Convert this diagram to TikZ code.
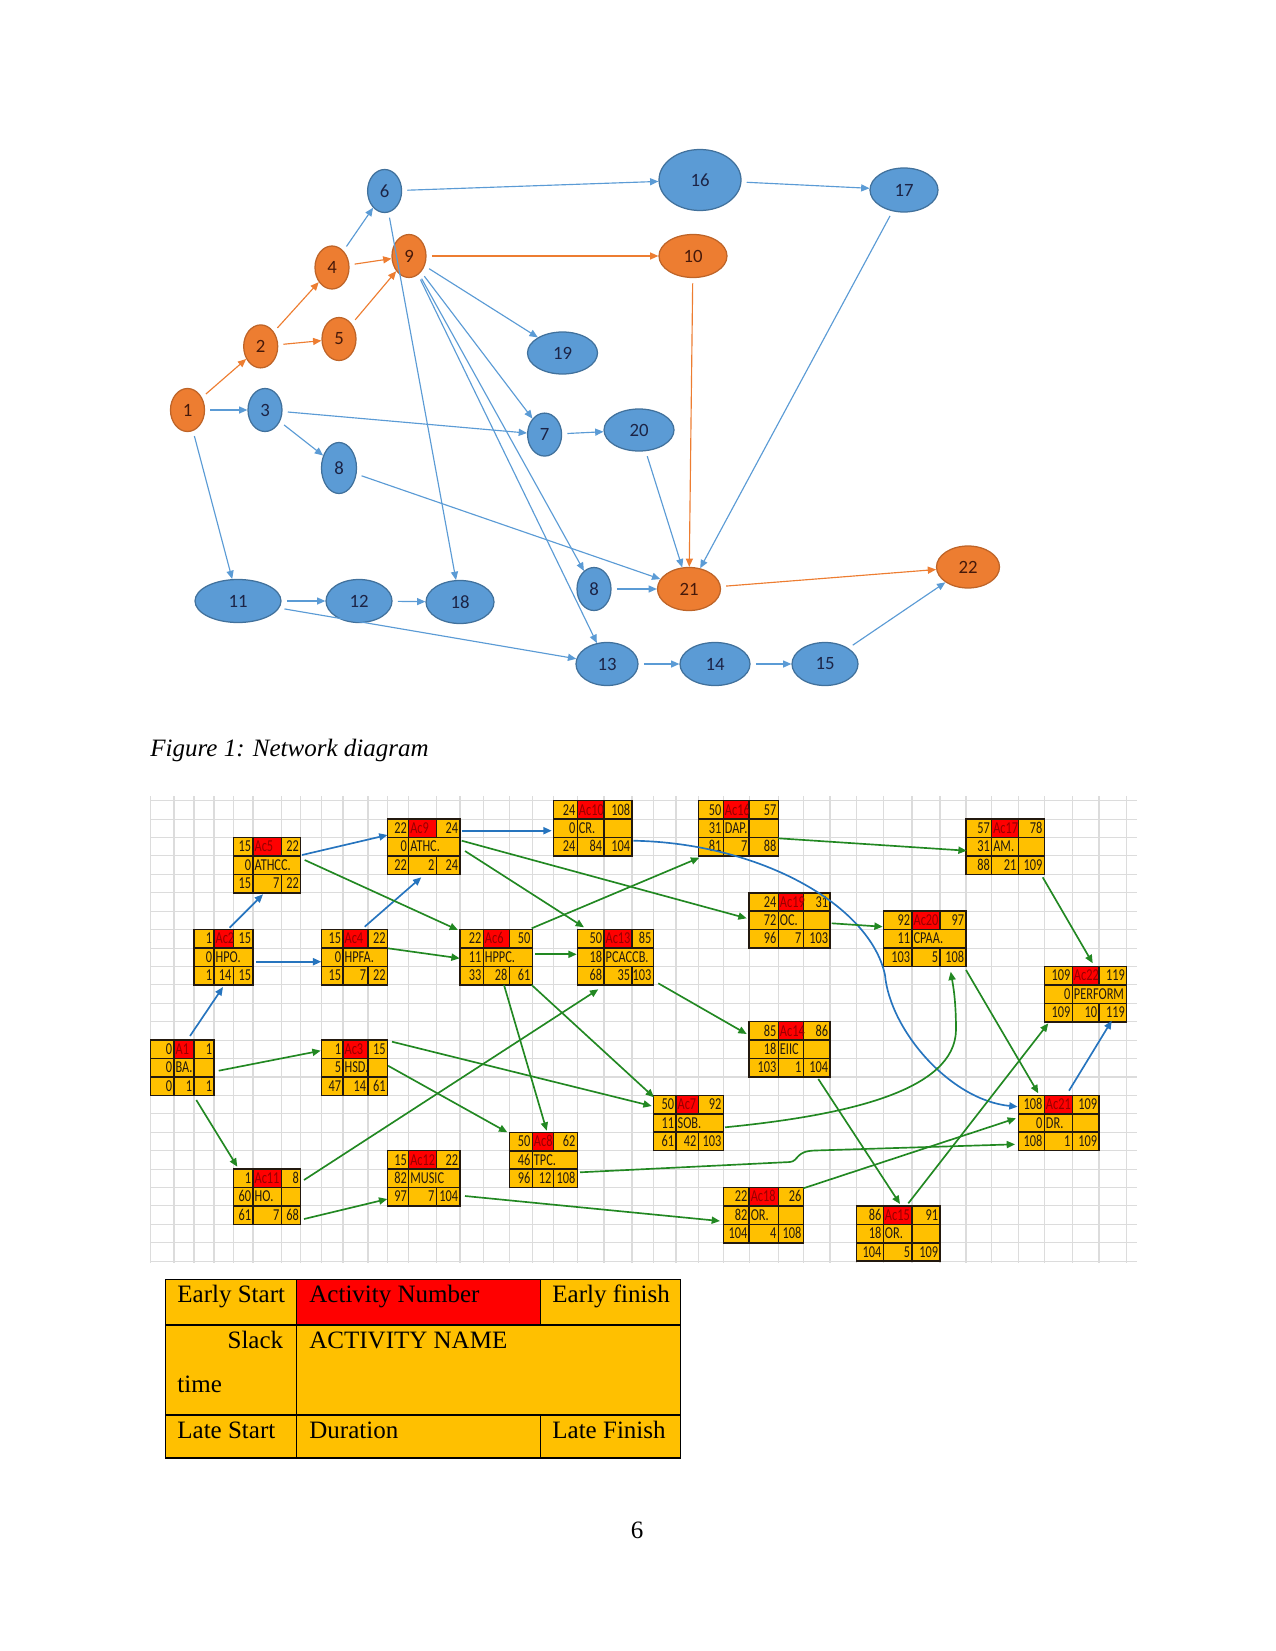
\documentclass[tikz,border=0pt]{standalone}
\usepackage{fontspec}
\setmainfont{Liberation Serif}
\newfontfamily\calfont{Carlito}
\usetikzlibrary{arrows.meta,shapes.geometric}
\definecolor{evblue}{RGB}{91,155,213}
\definecolor{evblueline}{RGB}{65,113,156}
\definecolor{evorange}{RGB}{237,125,49}
\definecolor{evorangeline}{RGB}{190,100,40}
\definecolor{evtext}{RGB}{28,36,70}
\definecolor{evotext}{RGB}{70,25,10}
\definecolor{amber}{RGB}{255,192,0}
\definecolor{cellred}{RGB}{255,0,0}
\definecolor{acred}{RGB}{150,0,0}
\definecolor{boxink}{RGB}{35,25,15}
\definecolor{gridgray}{RGB}{220,220,220}
\definecolor{lnkgreen}{RGB}{34,136,34}
\definecolor{lnkblue}{RGB}{38,116,190}
\tikzset{
  ev/.style={ellipse,draw,line width=0.6pt,inner sep=0pt,font=\calfont\fontsize{9}{10}\selectfont},
  evb/.style={ev,fill=evblue,draw=evblueline,text=evtext},
  evo/.style={ev,fill=evorange,draw=evorangeline,text=evotext},
  sz/.style 2 args={minimum width=#1*0.48pt,minimum height=#2*0.48pt},
  barr/.style={-{Triangle[length=4pt,width=3.4pt]},line width=0.55pt,evblue,shorten <=2.5pt},
  oarr/.style={barr,evorange},
  gridln/.style={gridgray,line width=0.5pt},
  boxln/.style={boxink,line width=0.75pt},
  cell/.style={inner sep=0pt,text=boxink,font=\calfont\fontsize{8}{9}\selectfont},
  garr/.style={-{Triangle[length=4pt,width=3.4pt]},line width=0.8pt,lnkgreen},
  larr/.style={garr,lnkblue},
  lgd/.style={inner sep=0pt,font=\fontsize{12}{14}\selectfont},
  lgdln/.style={black,line width=0.5pt},
}
\newcommand{\nar}[1]{\scalebox{0.74}[1]{#1}}
% #1 name, #2 x0/x1/x2/x3/top, #3 ES/no/EF, #4 slack/name/split, #5 LS/dur/LF
\newcommand{\actbox}[5]{%
  \foreach \bxa/\bxb/\bxc/\bxd/\byt/\bES/\bAN/\bEF/\bSL/\bNM/\bSP/\bLS/\bDU/\bLF in {#2/#3/#4/#5}{%
    \fill[amber] (\bxa,\byt) rectangle (\bxd,\byt+55.26);
    \fill[cellred] (\bxb,\byt) rectangle (\bxc,\byt+18.42);
    \draw[boxln] (\bxa,\byt) rectangle (\bxd,\byt+55.26)
      (\bxa,\byt+18.42) -- (\bxd,\byt+18.42)
      (\bxa,\byt+36.84) -- (\bxd,\byt+36.84)
      (\bxb,\byt) -- (\bxb,\byt+55.26)
      (\bxc,\byt) -- (\bxc,\byt+18.42)
      (\bxc,\byt+36.84) -- (\bxc,\byt+55.26);
    \ifnum\bSP=1 \draw[boxln] (\bxc,\byt+18.42) -- (\bxc,\byt+36.84);\fi
    \node[outer sep=0pt,inner sep=0pt,minimum width={(\bxd-\bxa)*0.48pt},minimum height=26.52pt] (#1) at ({(\bxa+\bxd)/2},\byt+27.63) {};
    \node[cell,anchor=base east] at (\bxb-1.5,\byt+14.3) {\nar{\bES}};
    \node[cell,anchor=base west,text=acred] at (\bxb+1.2,\byt+14.3) {\nar{\bAN}};
    \node[cell,anchor=base east] at (\bxd-1.5,\byt+14.3) {\nar{\bEF}};
    \node[cell,anchor=base east] at (\bxb-1.5,\byt+32.7) {\nar{\bSL}};
    \node[cell,anchor=base west] at (\bxb+1.2,\byt+32.7) {\nar{\bNM}};
    \node[cell,anchor=base east] at (\bxb-1.5,\byt+51.1) {\nar{\bLS}};
    \node[cell,anchor=base east] at (\bxc-1.5,\byt+51.1) {\nar{\bDU}};
    \node[cell,anchor=base east] at (\bxd-1.5,\byt+51.1) {\nar{\bLF}};
  }}

\begin{document}
\begin{tikzpicture}[x=0.48pt,y=-0.48pt]
\useasboundingbox (0,0) rectangle (1275,1651);

\node[evo,sz={34}{43}] (e1) at (187.5,410) {1};
\node[evo,sz={34}{43}] (e2) at (260.7,346.4) {2};
\node[evb,sz={34}{43}] (e3) at (265,410) {3};
\node[evo,sz={34}{43}] (e4) at (332,267.5) {4};
\node[evo,sz={34}{43}] (e5) at (339,339) {5};
\node[evb,sz={34}{43}] (e6) at (384.6,191) {6};
\node[evo,sz={34}{43}] (e9) at (409,256) {9};
\node[evb,sz={35}{51}] (e8a) at (339,468) {8};
\node[evb,sz={34}{43}] (e7) at (544.6,434.6) {7};
\node[evb,sz={70}{42}] (e19) at (562.5,353) {19};
\node[evb,sz={70}{42}] (e20) at (639,430) {20};
\node[evb,sz={82}{61}] (e16) at (700,180) {16};
\node[evb,sz={68}{44}] (e17) at (904,190) {17};
\node[evo,sz={68}{43}] (e10) at (693,256) {10};
\node[evb,sz={86}{43}] (e11) at (238,601) {11};
\node[evb,sz={66}{43}] (e12) at (359,601) {12};
\node[evb,sz={68}{43}] (e18) at (460,602) {18};
\node[evb,sz={34}{43}] (e8b) at (594,589) {8};
\node[evo,sz={63}{43}] (e21) at (689,589) {21};
\node[evb,sz={62}{43}] (e13) at (607,664) {13};
\node[evb,sz={70}{43}] (e14) at (715,664) {14};
\node[evb,sz={66}{43}] (e15) at (825,664) {15};
\node[evo,sz={63}{42}] (e22) at (968,567) {22};

\draw[oarr] (e1) -- (e2);
\draw[barr] (e1) -- (e3);
\draw[barr] (e1) -- (e11);
\draw[oarr] (e2) -- (e4);
\draw[oarr] (e2) -- (e5);
\draw[barr] (e4) -- (e6);
\draw[oarr] (e4) -- (e9);
\draw[oarr] (e5) -- (e9);
\draw[barr] (e6) -- (e16);
\draw[barr] (e6) -- (e18);
\draw[oarr] (e9) -- (e10);
\draw[barr] (e9) -- (e19);
\draw[barr] (e9) -- (e7);
\draw[barr] (e9) -- (e8b);
\draw[barr] (e9) -- (e13);
\draw[barr] (e3) -- (e7);
\draw[barr] (e3) -- (e8a);
\draw[barr] (e8a) -- (e21);
\draw[barr] (e7) -- (e20);
\draw[barr] (e20) -- (e21);
\draw[oarr] (e10) -- (e21);
\draw[barr] (e16) -- (e17);
\draw[barr] (e17) -- (e21);
\draw[barr] (e8b) -- (e21);
\draw[oarr] (e21) -- (e22);
\draw[barr] (e11) -- (e12);
\draw[barr] (e12) -- (e18);
\draw[barr] (e11) -- (e13);
\draw[barr] (e13) -- (e14);
\draw[barr] (e14) -- (e15);
\draw[barr] (e15) -- (e22);

\node[lgd,anchor=base west,font=\itshape\fontsize{12}{14}\selectfont] (cap) at (150,756) {Figure 1: Network diagram};

\foreach \gx in {150.7,174,194,214,233.3,253,281.3,300.7,321.3,343,368,387.5,408.7,436.3,460,483.3,509.3,532.3,553.3,577.3,604,632,653.3,676,698.3,723.3,749.2,778.3,803.3,830,856.7,883.3,912,940,966,991.7,1018.3,1044.3,1072.3,1099,1126.7}
  \draw[gridln] (\gx,796) -- (\gx,1263);
\foreach \k in {0,...,25}
  \draw[gridln] (150,{800.7+18.42*\k}) -- (1137,{800.7+18.42*\k});

\actbox{a1}{150.7/174/194/214/1040.2}{0/A1/1}{0/BA./1}{0/1/1}
\actbox{ac2}{194/214/233.3/253/929.6}{1/Ac2/15}{0/HPO./0}{1/14/15}
\actbox{ac5}{233.3/253/281.3/300.7/837.5}{15/Ac5/22}{0/ATHCC./0}{15/7/22}
\actbox{ac4}{321.3/343/368/387.5/929.6}{15/Ac4/22}{0/HPFA./0}{15/7/22}
\actbox{ac3}{321.3/343/368/387.5/1040.2}{1/Ac3/15}{5/HSD./1}{47/14/61}
\actbox{ac9}{387.5/408.7/436.3/460/819.1}{22/Ac9/24}{0/ATHC./0}{22/2/24}
\actbox{ac10}{553.3/577.3/604/632/800.7}{24/Ac10/108}{0/CR./1}{24/84/104}
\actbox{ac6}{460/483.3/509.3/532.3/929.6}{22/Ac6/50}{11/HPPC./0}{33/28/61}
\actbox{ac13}{577.3/604/632/653.3/929.6}{50/Ac13/85}{18/PCACCB./0}{68/35/103}
\actbox{ac16}{698.3/723.3/749.2/778.3/800.7}{50/Ac16/57}{31/DAP./1}{81/7/88}
\actbox{ac19}{749.2/778.3/803.3/830/892.8}{24/Ac19/31}{72/OC./1}{96/7/103}
\actbox{ac20}{883.3/912/940/966/911.2}{92/Ac20/97}{11/CPAA./0}{103/5/108}
\actbox{ac17}{966/991.7/1018.3/1044.3/819.1}{57/Ac17/78}{31/AM./1}{88/21/109}
\actbox{ac22}{1044.3/1072.3/1099/1126.7/966.5}{109/Ac22/119}{0/PERFORM/0}{109/10/119}
\actbox{ac11}{233.3/253/281.3/300.7/1169.1}{1/Ac11/8}{60/HO./1}{61/7/68}
\actbox{ac12}{387.5/408.7/436.3/460/1150.7}{15/Ac12/22}{82/MUSIC/0}{97/7/104}
\actbox{ac8}{509.3/532.3/553.3/577.3/1132.3}{50/Ac8/62}{46/TPC./0}{96/12/108}
\actbox{ac7}{653.3/676/698.3/723.3/1095.4}{50/Ac7/92}{11/SOB./0}{61/42/103}
\actbox{ac14}{749.2/778.3/803.3/830/1021.7}{85/Ac14/86}{18/EIIC/1}{103/1/104}
\actbox{ac21}{1018.3/1044.3/1072.3/1099/1095.4}{108/Ac21/109}{0/DR./1}{108/1/109}
\actbox{ac18}{723.3/749.2/778.3/803.3/1187.5}{22/Ac18/26}{82/OR./1}{104/4/108}
\actbox{ac15}{856.7/883.3/912/940/1205.9}{86/Ac15/91}{18/OR./1}{104/5/109}

\draw[larr] ([shift={(39.3,-4.2)}]a1.north west) -- ([shift={(29,57.4)}]ac2.north west);
\draw[larr] ([shift={(35.7,-1.9)}]ac2.north west) -- ([shift={(29.7,56.8)}]ac5.north west);
\draw[larr] ([shift={(62.3,32.1)}]ac2.north west) -- ([shift={(0,32.1)}]ac4.north west);
\draw[larr] ([shift={(43.4,-2.9)}]ac4.north west) -- ([shift={(33.8,58.2)}]ac9.north west);
\draw[larr] ([shift={(68.7,17.5)}]ac5.north west) -- ([shift={(0,15.9)}]ac9.north west);
\draw[larr] ([shift={(74.2,11.6)}]ac9.north west) -- ([shift={(-1.6,30)}]ac10.north west);
\draw[larr] ([shift={(80,40)}]ac10.north west) .. controls (760,843) and (870,905) .. (885,975)
  .. controls (890,1030) and (950,1100) .. ([shift={(-0.7,11.3)}]ac21.north west);
\draw[larr] ([shift={(50.7,-4.7)}]ac21.north west) -- ([shift={(67.4,54.2)}]ac22.north west);

\draw[garr] ([shift={(68,30.5)}]a1.north west) -- ([shift={(-0.6,10.5)}]ac3.north west);
\draw[garr] ([shift={(45.6,59.8)}]a1.north west) -- ([shift={(4,-2.4)}]ac11.north west);
\draw[garr] ([shift={(71.4,22.5)}]ac5.north west) -- ([shift={(-2,0.4)}]ac6.north west);
\draw[garr] ([shift={(66.7,18.7)}]ac4.north west) -- ([shift={(-0.3,28.7)}]ac6.north west);
\draw[garr] ([shift={(74.2,21.6)}]ac9.north west) -- ([shift={(-2.5,25.5)}]ac19.north west);
\draw[garr] ([shift={(77.5,31.9)}]ac9.north west) -- ([shift={(6.7,-2.3)}]ac13.north west);
\draw[garr] ([shift={(71.7,-1.3)}]ac6.north west) -- ([shift={(1,57)}]ac16.north west);
\draw[garr] ([shift={(75,24.7)}]ac6.north west) -- ([shift={(-0.6,24.7)}]ac13.north west);
\draw[garr] ([shift={(44,55.4)}]ac6.north west) -- ([shift={(37.4,-1.6)}]ac8.north west);
\draw[garr] ([shift={(71.7,55.4)}]ac6.north west) -- ([shift={(0.7,1.9)}]ac7.north west);
\draw[garr] ([shift={(81,53.7)}]ac13.north west) -- ([shift={(-2.5,12.3)}]ac14.north west);
\draw[garr] ([shift={(70.7,10.9)}]ac11.north west) -- ([shift={(21,59.7)}]ac13.north west);
\draw[garr] ([shift={(80,37.6)}]ac16.north west) -- ([shift={(0.7,31.6)}]ac17.north west);
\draw[garr] ([shift={(82.5,30.5)}]ac19.north west) -- ([shift={(-0.6,15.5)}]ac20.north west);
\draw[garr] ([shift={(82.7,58.8)}]ac20.north west) -- ([shift={(20,-2.1)}]ac21.north west);
\draw[garr] ([shift={(71.7,31.9)}]ac7.north west) .. controls (850,1115) and (955,1090) .. (956,1030)
  .. controls (956,1000) and (953,985) .. ([shift={(67.4,60.5)}]ac20.north west);
\draw[garr] ([shift={(76.7,58.2)}]ac17.north west) -- ([shift={(48.4,-3.2)}]ac22.north west);
\draw[garr] ([shift={(51.6,-2.6)}]ac15.north west) -- ([shift={(4,56.8)}]ac22.north west);
\draw[garr] ([shift={(70.7,49.9)}]ac11.north west) -- ([shift={(-0.2,48.3)}]ac12.north west);
\draw[garr] ([shift={(70.7,1.5)}]ac3.north west) -- ([shift={(-1.6,10.6)}]ac7.north west);
\draw[garr] ([shift={(66.7,25.5)}]ac3.north west) -- ([shift={(-2,0)}]ac8.north west);
\draw[garr] ([shift={(77.5,45.3)}]ac12.north west) -- ([shift={(-3.3,33.5)}]ac18.north west);
\draw[garr] ([shift={(70.7,40)}]ac8.north west) -- (790,1162) .. controls (799,1161) and (795,1151) .. (815,1150.5)
  -- ([shift={(-3.3,48.9)}]ac21.north west);
\draw[garr] ([shift={(80,0.8)}]ac18.north west) -- ([shift={(-2.3,22.9)}]ac21.north west);
\draw[garr] ([shift={(69.1,57.3)}]ac14.north west) -- ([shift={(43.3,-1.9)}]ac15.north west);

\fill[amber] (165.5,1279.5) rectangle (680.5,1458);
\fill[cellred] (296.3,1279.5) rectangle (540.2,1325);
\draw[lgdln] (165.5,1279.5) rectangle (680.5,1458)
  (165.5,1325) -- (680.5,1325) (165.5,1415) -- (680.5,1415)
  (296.3,1279.5) -- (296.3,1458)
  (540.2,1279.5) -- (540.2,1325) (540.2,1415) -- (540.2,1458);
\node[lgd,anchor=base west] (lgES) at (177,1302) {Early Start};
\node[lgd,anchor=base west] (lgAN) at (309,1302) {Activity Number};
\node[lgd,anchor=base west] (lgEF) at (552,1302) {Early finish};
\node[lgd,anchor=base east] (lgSL) at (283.6,1348) {Slack};
\node[lgd,anchor=base west] (lgTM) at (177,1392.7) {time};
\node[lgd,anchor=base west] (lgNM) at (309,1348) {ACTIVITY NAME};
\node[lgd,anchor=base west] (lgLS) at (177,1438.5) {Late Start};
\node[lgd,anchor=base west] (lgDU) at (309,1438.5) {Duration};
\node[lgd,anchor=base west] (lgLF) at (552,1438.5) {Late Finish};

\node[lgd,anchor=base] (pg) at (637,1538) {6};
\end{tikzpicture}
\end{document}
